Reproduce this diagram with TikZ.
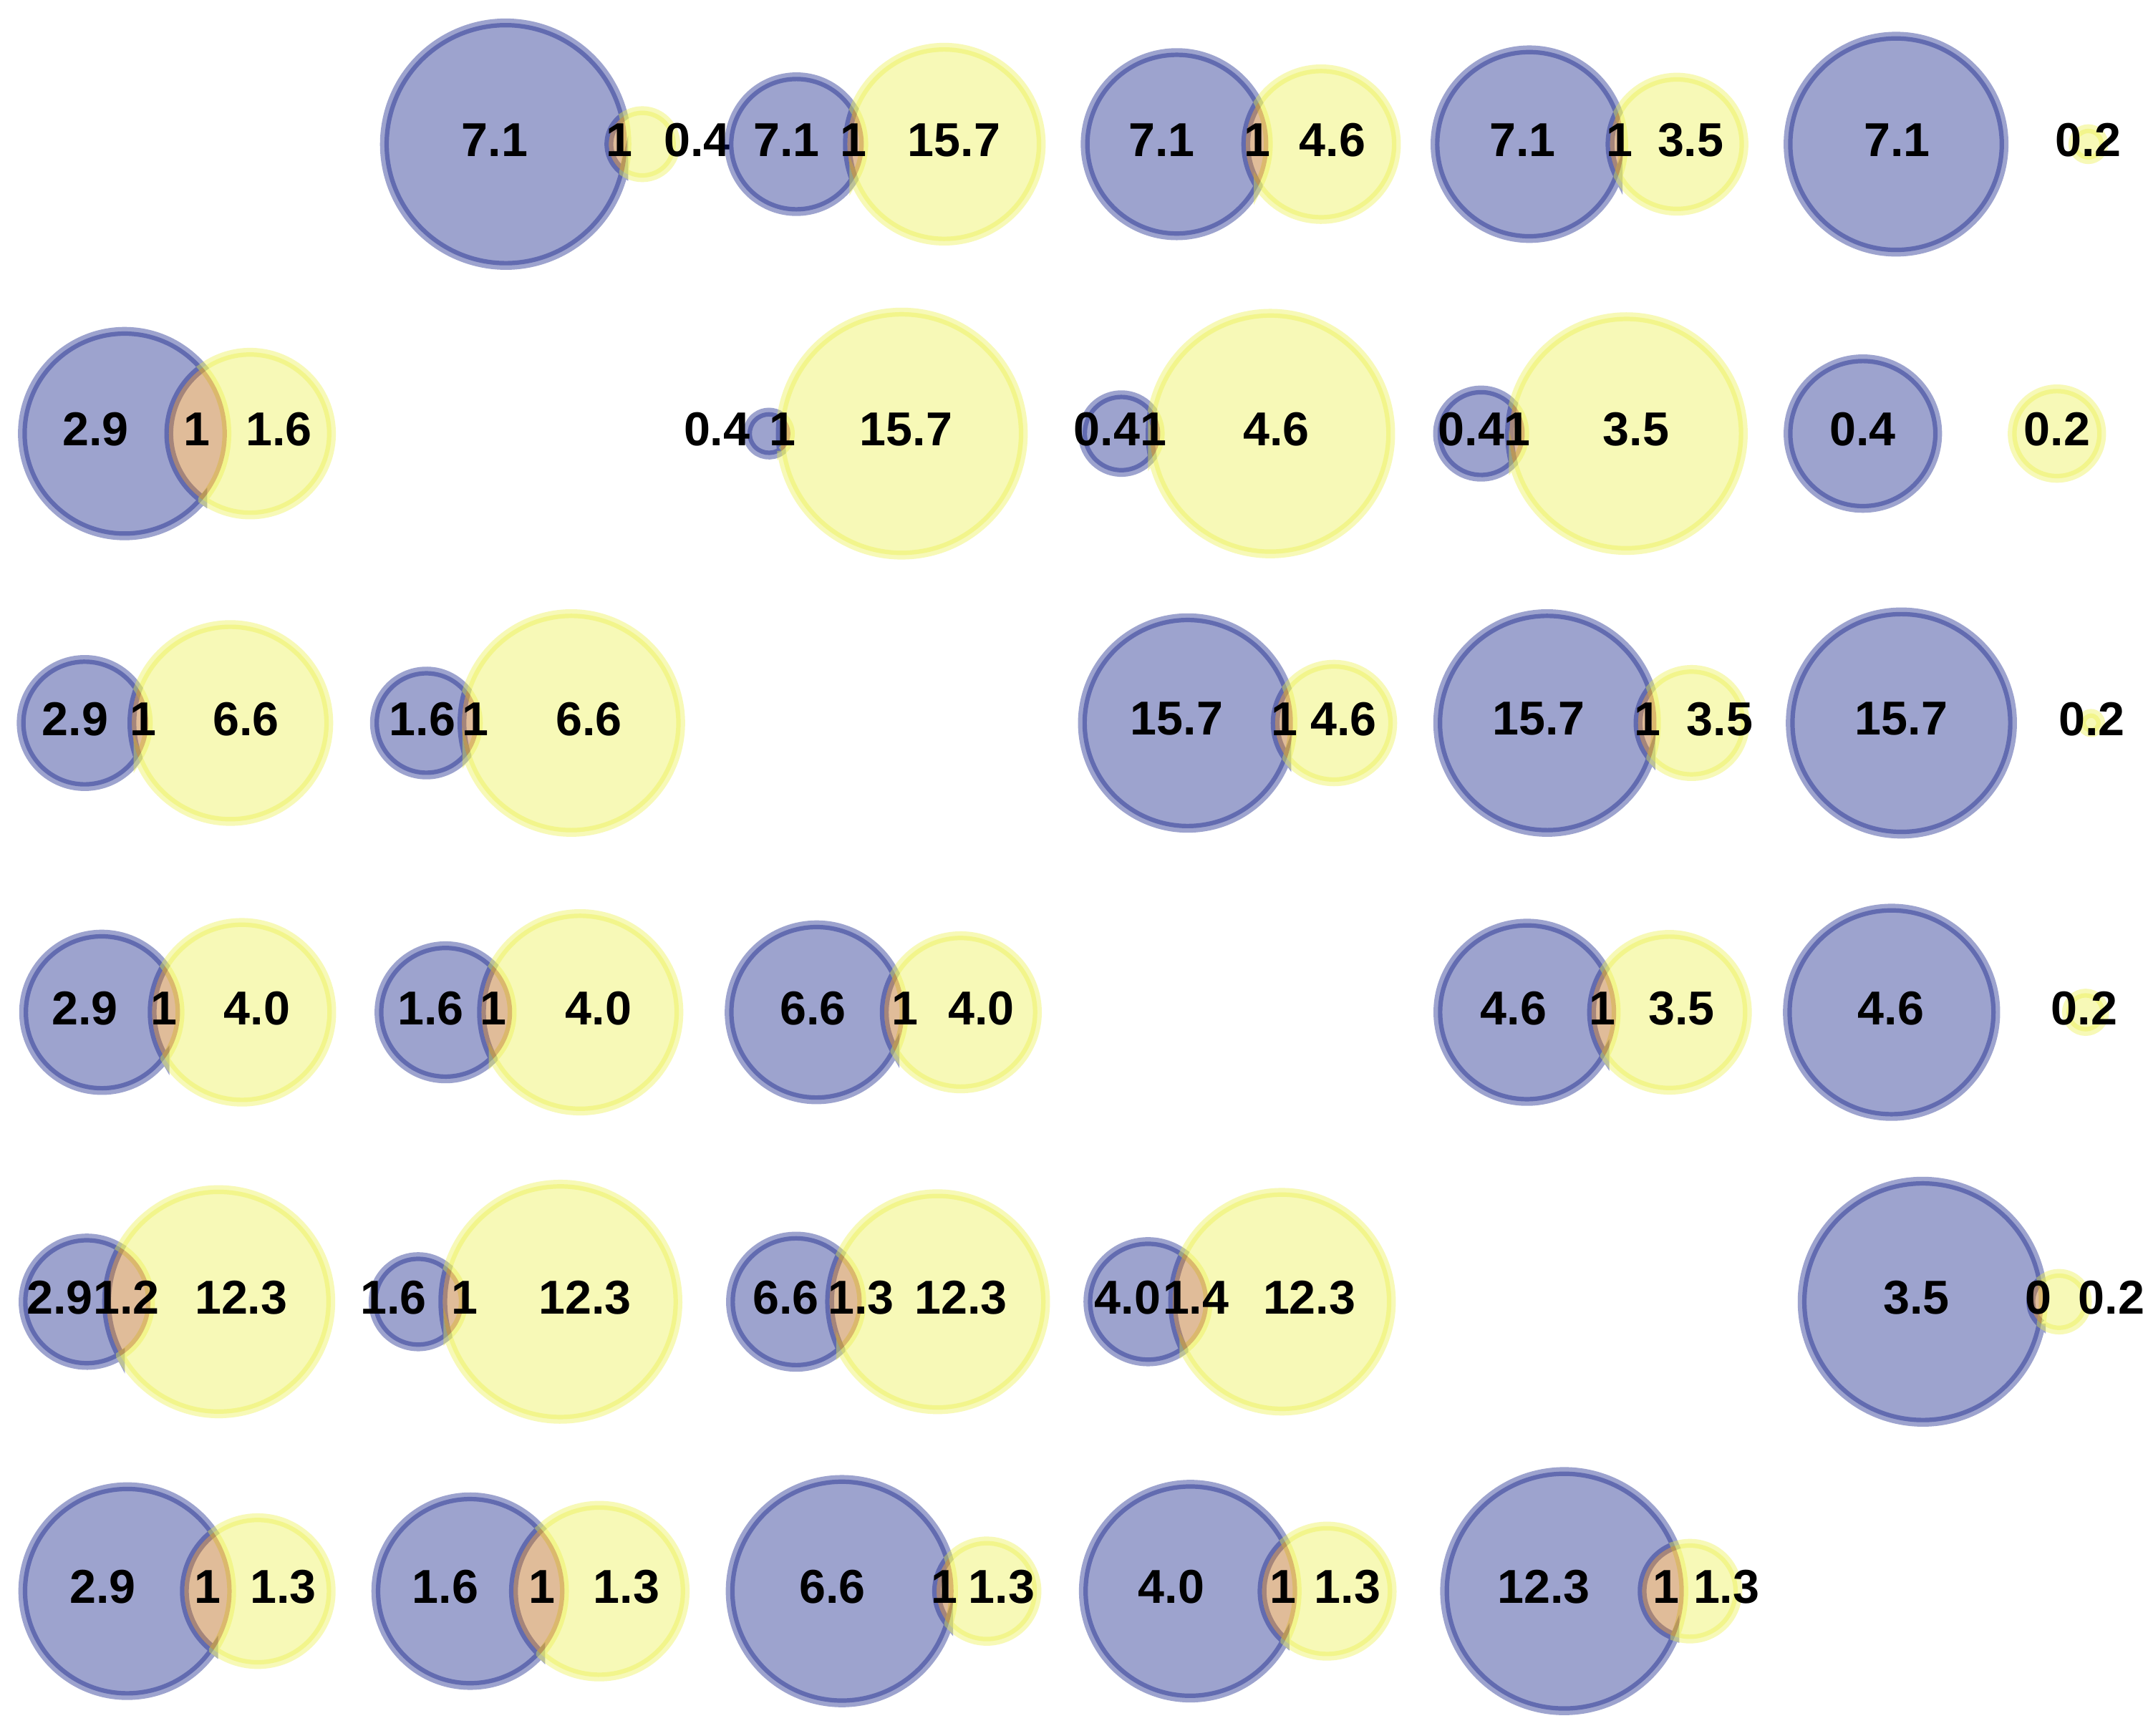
\documentclass[tikz,border=0pt]{standalone}
\usepackage{fontspec}
\setmainfont{Liberation Sans}
\definecolor{blueC}{RGB}{10,25,133}
\definecolor{yellowC}{RGB}{235,240,75}
\definecolor{orangeC}{RGB}{178,88,0}
\tikzset{
 aonly/.style={fill=blueC, draw=blueC, fill opacity=0.4, draw opacity=0.4, line width=3.25pt},
 bonly/.style={fill=yellowC, draw=yellowC, fill opacity=0.4, draw opacity=0.4, line width=3.25pt},
 abreg/.style={fill=orangeC, fill opacity=0.4},
 lbl/.style={font=\fontsize{17.4}{20}\selectfont\bfseries, inner sep=0pt, text=black}
}
% #1 x1, #2 r1, #3 x2, #4 r2, #5 y
\newcommand\vennAB[5]{%
 \edef\vd{\fpeval{(#3)-(#1)}}%
 \edef\va{\fpeval{round((\vd*\vd+(#2)*(#2)-(#4)*(#4))/(2*\vd),4)}}%
 \edef\vh{\fpeval{round(sqrt((#2)*(#2)-\va*\va),4)}}%
 \edef\tA{\fpeval{round(atand(\vh,\va),4)}}%
 \edef\tB{\fpeval{round(atand(\vh,\vd-\va),4)}}%
 \edef\px{\fpeval{round((#1)+\va,4)}}%
 \edef\py{\fpeval{round((#5)+\vh,4)}}%
 \path[aonly] (\px,\py) arc[start angle=\tA, end angle={360-\tA}, radius=#2]
   arc[start angle={180+\tB}, end angle={180-\tB}, radius=#4] -- cycle;
 \path[bonly] (\px,\py) arc[start angle={180-\tB}, end angle={-180+\tB}, radius=#4]
   arc[start angle={-\tA}, end angle=\tA, radius=#2] -- cycle;
 \path[abreg] (\px,\py) arc[start angle=\tA, end angle={-\tA}, radius=#2]
   arc[start angle={180+\tB}, end angle={180-\tB}, radius=#4] -- cycle;
}
\newcommand\vennSep[5]{%
 \path[aonly] (#1,#5) circle[radius=#2];
 \path[bonly] (#3,#5) circle[radius=#4];
}
% #1 name, #2 x, #3 y, #4 text
\newcommand\vlab[4]{\node[lbl] (#1) at (#2,{#3-3}) {#4};}
\begin{document}
\begin{tikzpicture}[x=0.5pt,y=-0.5pt]
\fill[white] (0,0) rectangle (1568,1270);
\useasboundingbox (0,0) rectangle (1568,1270);
% ---------- row 1
\def\ry{105.5}
\vennAB{370}{88.7}{470}{24.5}{\ry}
\vlab{a12}{362}{\ry}{7.1}\vlab{m12}{453}{\ry}{1}\vlab{b12}{510}{\ry}{0.4}
\vennAB{582.7}{49.3}{690.9}{70.9}{\ry}
\vlab{a13}{575.5}{\ry}{7.1}\vlab{m13}{624.5}{\ry}{1}\vlab{b13}{698}{\ry}{15.7}
\vennAB{861}{67}{966.6}{55.1}{\ry}
\vlab{a14}{850}{\ry}{7.1}\vlab{m14}{919.8}{\ry}{1}\vlab{b14}{975}{\ry}{4.6}
\vennAB{1119}{69}{1227}{49}{\ry}
\vlab{a15}{1114}{\ry}{7.1}\vlab{m15}{1185}{\ry}{1}\vlab{b15}{1237}{\ry}{3.5}
\vennSep{1387.3}{79}{1528}{11.3}{\ry}
\vlab{a16}{1388}{\ry}{7.1}\vlab{b16}{1528}{\ry}{0.2}
% ---------- row 2
\def\ry{317.3}
\vennAB{91.2}{74.8}{183}{59.5}{\ry}
\vlab{a21}{70}{\ry}{2.9}\vlab{m21}{144}{\ry}{1}\vlab{b21}{204}{\ry}{1.6}
\vennAB{562.6}{15.7}{659.8}{88.9}{\ry}
\vlab{a23}{524.5}{\ry}{0.4}\vlab{m23}{572.6}{\ry}{1}\vlab{b23}{662.9}{\ry}{15.7}
\vennAB{820.5}{28.4}{929.5}{88}{\ry}
\vlab{a24}{810}{\ry}{0.4}\vlab{m24}{844}{\ry}{1}\vlab{b24}{933.8}{\ry}{4.6}
\vennAB{1083.7}{31.9}{1190}{85.5}{\ry}
\vlab{a25}{1076.5}{\ry}{0.4}\vlab{m25}{1110}{\ry}{1}\vlab{b25}{1197}{\ry}{3.5}
\vennSep{1363}{54.7}{1505}{32.7}{\ry}
\vlab{a26}{1363}{\ry}{0.4}\vlab{b26}{1505}{\ry}{0.2}
% ---------- row 3
\def\ry{529.1}
\vennAB{62}{46.5}{168.5}{72}{\ry}
\vlab{a31}{55}{\ry}{2.9}\vlab{m31}{105}{\ry}{1}\vlab{b31}{180}{\ry}{6.6}
\vennAB{312}{38}{418}{80}{\ry}
\vlab{a32}{309}{\ry}{1.6}\vlab{m32}{348}{\ry}{1}\vlab{b32}{431}{\ry}{6.6}
\vennAB{869}{77}{976}{43}{\ry}
\vlab{a34}{861}{\ry}{15.7}\vlab{m34}{940}{\ry}{1}\vlab{b34}{983}{\ry}{4.6}
\vennAB{1132}{80}{1237.7}{39.2}{\ry}
\vlab{a35}{1125.8}{\ry}{15.7}\vlab{m35}{1205.4}{\ry}{1}\vlab{b35}{1258.4}{\ry}{3.5}
\vennSep{1391.2}{81.3}{1530}{7}{\ry}
\vlab{a36}{1391.2}{\ry}{15.7}\vlab{b36}{1530.5}{\ry}{0.2}
% ---------- row 4
\def\ry{740.8}
\vennAB{74.5}{57.2}{177}{65.7}{\ry}
\vlab{a41}{62}{\ry}{2.9}\vlab{m41}{120}{\ry}{1}\vlab{b41}{188}{\ry}{4.0}
\vennAB{326}{48.7}{424.5}{72.2}{\ry}
\vlab{a42}{315}{\ry}{1.6}\vlab{m42}{361}{\ry}{1}\vlab{b42}{438}{\ry}{4.0}
\vennAB{597.5}{64}{703}{56}{\ry}
\vlab{a43}{595}{\ry}{6.6}\vlab{m43}{662}{\ry}{1}\vlab{b43}{718}{\ry}{4.0}
\vennAB{1117.3}{65.2}{1221.5}{57}{\ry}
\vlab{a45}{1107.5}{\ry}{4.6}\vlab{m45}{1172.2}{\ry}{1}\vlab{b45}{1230.3}{\ry}{3.5}
\vennSep{1384}{76.2}{1526}{14}{\ry}
\vlab{a46}{1383.6}{\ry}{4.6}\vlab{b46}{1525}{\ry}{0.2}
% ---------- row 5
\def\ry{952.6}
\vennAB{63.5}{46.6}{160}{82}{\ry}
\vlab{a51}{43.7}{\ry}{2.9}\vlab{m51}{92.6}{\ry}{1.2}\vlab{b51}{176.4}{\ry}{12.3}
\vennAB{306}{33}{410}{86}{\ry}
\vlab{a52}{288}{\ry}{1.6}\vlab{m52}{340}{\ry}{1}\vlab{b52}{428}{\ry}{12.3}
\vennAB{582.5}{48}{686}{79}{\ry}
\vlab{a53}{575}{\ry}{6.6}\vlab{m53}{630}{\ry}{1.3}\vlab{b53}{703}{\ry}{12.3}
\vennAB{840}{44}{938}{80}{\ry}
\vlab{a54}{825}{\ry}{4.0}\vlab{m54}{875}{\ry}{1.4}\vlab{b54}{958}{\ry}{12.3}
\vennAB{1406.8}{88.2}{1506.6}{20.7}{\ry}
\vlab{a56}{1402.3}{\ry}{3.5}\vlab{m56}{1491.3}{\ry}{0}\vlab{b56}{1545}{\ry}{0.2}
% ---------- row 6
\def\ry{1164.4}
\vennAB{93.1}{76.4}{188.6}{53.7}{\ry}
\vlab{a61}{75.2}{\ry}{2.9}\vlab{m61}{152}{\ry}{1}\vlab{b61}{207.2}{\ry}{1.3}
\vennAB{344}{69}{438.5}{62.8}{\ry}
\vlab{a62}{325.8}{\ry}{1.6}\vlab{m62}{396.6}{\ry}{1}\vlab{b62}{458.4}{\ry}{1.3}
\vennAB{616}{81.7}{722}{36.7}{\ry}
\vlab{a63}{609}{\ry}{6.6}\vlab{m63}{691}{\ry}{1}\vlab{b63}{733}{\ry}{1.3}
\vennAB{870.9}{78.2}{971}{47.6}{\ry}
\vlab{a64}{857}{\ry}{4.0}\vlab{m64}{939}{\ry}{1}\vlab{b64}{985.9}{\ry}{1.3}
\vennAB{1144.5}{87.5}{1236.5}{35}{\ry}
\vlab{a65}{1129.5}{\ry}{12.3}\vlab{m65}{1219}{\ry}{1}\vlab{b65}{1263.2}{\ry}{1.3}
\end{tikzpicture}
\end{document}
